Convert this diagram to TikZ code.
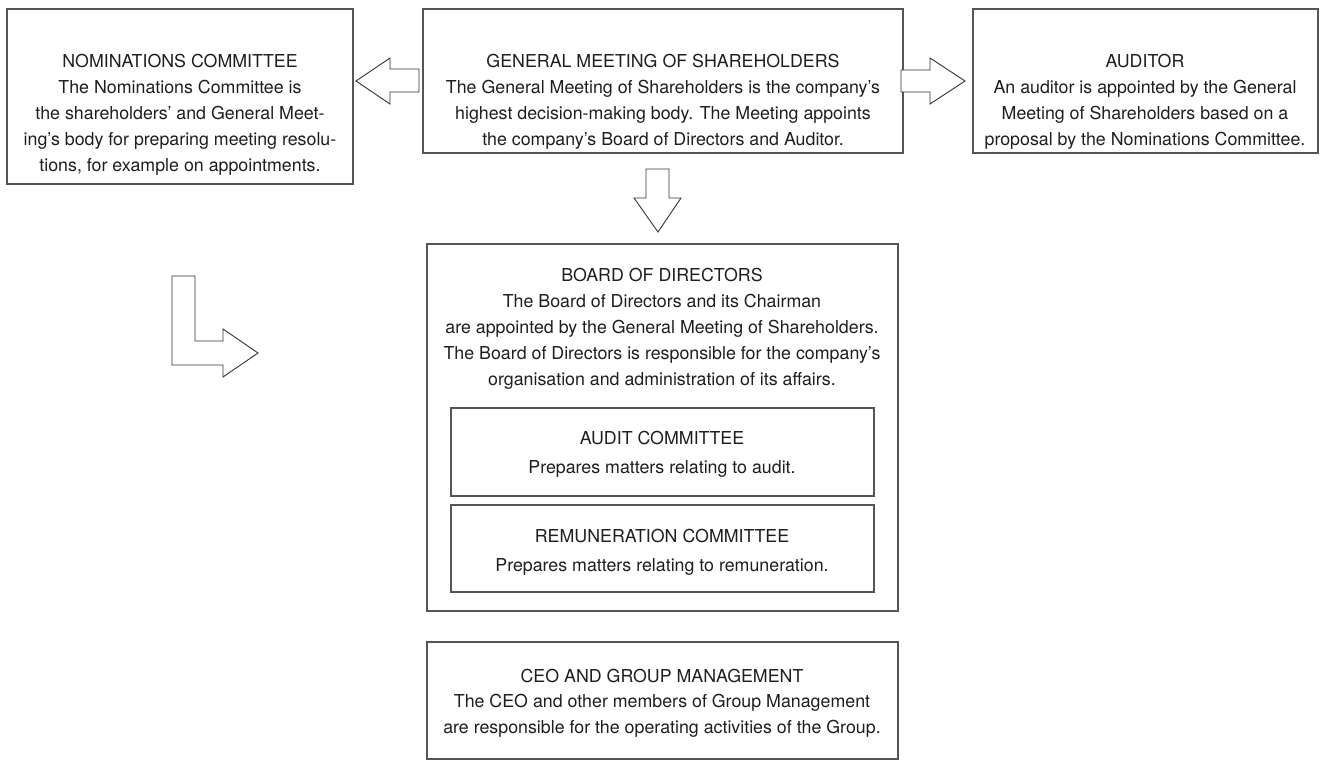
\documentclass[tikz,border=0pt]{standalone}
\usepackage{fontspec}
\setmainfont{TeX Gyre Heros}
\definecolor{txt}{HTML}{1E1E1E}
\definecolor{frame}{HTML}{555555}
\definecolor{arr}{HTML}{333333}
\begin{document}
\begin{tikzpicture}[x=1pt,y=-1pt,
  boxframe/.style={draw=frame,line width=1.1pt},
  blockarrow/.style={draw=arr,line width=0.9pt,fill=white,line join=miter},
  label/.style={text=txt,font=\fontsize{17.8}{26}\selectfont,inner sep=0pt,anchor=base,align=center}]
\useasboundingbox (0,0) rectangle (1326,760);
% boxes
\draw[boxframe] (7,9) rectangle (353,184);
\draw[boxframe] (423,9) rectangle (903,153);
\draw[boxframe] (973,9) rectangle (1318,153);
\draw[boxframe] (427,244) rectangle (898,611);
\draw[boxframe] (451,408) rectangle (874,496);
\draw[boxframe] (451,505) rectangle (874,592);
\draw[boxframe] (427,642) rectangle (898,759);
% arrows
\draw[blockarrow] (419,69) -- (390,69) -- (390,58) -- (356,81) -- (390,104) -- (390,92) -- (419,92) -- cycle;
\draw[blockarrow] (901,70) -- (930,70) -- (930,58) -- (965,81) -- (930,104) -- (930,92) -- (901,92) -- cycle;
\draw[blockarrow] (646,169) -- (669,169) -- (669,198) -- (681,198) -- (658,232) -- (634,198) -- (646,198) -- cycle;
\draw[blockarrow] (172,276) -- (195,276) -- (195,341) -- (223,341) -- (223,329) -- (258,353) -- (223,377) -- (223,365) -- (172,365) -- cycle;
% texts
\node[label] (nomt) at (180,68) {NOMINATIONS COMMITTEE};
\node[label,anchor=north] (nomb) at (180,80) {The Nominations Committee is\\the shareholders’ and General Meet-\\ing’s body for preparing meeting resolu-\\tions, for example on appointments.};
\node[label] (gmt) at (663,68) {GENERAL MEETING OF SHAREHOLDERS};
\node[label,anchor=north] (gmb) at (663,80) {The General Meeting of Shareholders is the company’s\\highest decision-making body. The Meeting appoints\\the company’s Board of Directors and Auditor.};
\node[label] (audt) at (1145,68) {AUDITOR};
\node[label,anchor=north] (audb) at (1145,80) {An auditor is appointed by the General\\Meeting of Shareholders based on a\\proposal by the Nominations Committee.};
\node[label] (bodt) at (662,281) {BOARD OF DIRECTORS};
\node[label,anchor=north] (bodb) at (662,294) {The Board of Directors and its Chairman\\are appointed by the General Meeting of Shareholders.\\The Board of Directors is responsible for the company’s\\organisation and administration of its affairs.};
\node[label] (act) at (662,444) {AUDIT COMMITTEE};
\node[label] (acb) at (662,473) {Prepares matters relating to audit.};
\node[label] (rct) at (662,542) {REMUNERATION COMMITTEE};
\node[label] (rcb) at (662,571) {Prepares matters relating to remuneration.};
\node[label] (ceot) at (662,682) {CEO AND GROUP MANAGEMENT};
\node[label,anchor=north] (ceob) at (662,694) {The CEO and other members of Group Management\\are responsible for the operating activities of the Group.};
\end{tikzpicture}
\end{document}
